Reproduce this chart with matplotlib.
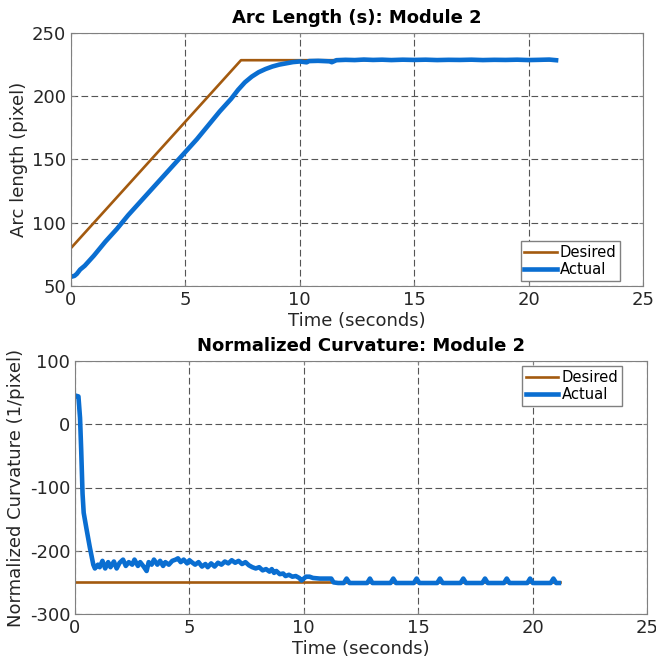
import matplotlib
matplotlib.use("Agg")
import matplotlib.pyplot as plt

# arc length, desired vs actual
t_arc_des = [0, 7.43, 21.2]
arc_des = [80, 228.5, 228.5]

t_arc = [0.05, 0.15, 0.25, 0.4, 0.6, 0.8, 1.0, 1.5, 2.0, 2.5, 3.0, 3.5, 4.0, 4.5,
         5.0, 5.5, 6.0, 6.5, 7.0, 7.3, 7.6, 7.9, 8.2, 8.5, 8.8, 9.1, 9.4, 9.7,
         10.0, 10.3, 10.4, 10.8, 11.3, 11.4, 11.6, 12.0, 12.4, 12.8, 13.2, 13.6,
         14.0, 14.5, 15.0, 15.5, 16.0, 16.5, 17.0, 17.5, 18.0, 18.5, 19.0, 19.5,
         20.0, 20.5, 20.9, 21.2]
arc = [57.5, 58, 59.5, 63, 66, 70, 74, 85, 95, 106, 116, 126, 136, 146,
       156, 166, 177, 188, 198, 205, 211, 215.5, 219, 221.5, 223.5, 225, 226, 227,
       227.5, 226.8, 227.8, 228, 227.6, 226.9, 228.5, 228.8, 228.6, 229, 228.7, 228.9,
       228.6, 228.9, 228.7, 228.9, 228.6, 228.8, 228.7, 228.9, 228.6, 228.8, 228.7, 228.9,
       228.6, 228.8, 229, 228.5]

# normalized curvature, desired vs actual
t_curv_des = [0, 21.2]
curv_des = [-250, -250]

t_curv = [0.05, 0.15, 0.22, 0.27, 0.33, 0.38, 0.5, 0.65, 0.8, 0.87,
          1.0, 1.08, 1.2, 1.32, 1.45, 1.55, 1.7, 1.82, 1.95, 2.1, 2.22, 2.35,
          2.5, 2.6, 2.75, 2.85, 3.0, 3.13, 3.22, 3.35, 3.45, 3.6, 3.72, 3.85,
          3.95, 4.1, 4.25, 4.4, 4.5, 4.62, 4.75, 4.9, 5.0, 5.1, 5.25, 5.4,
          5.55, 5.7, 5.8, 5.95, 6.1, 6.25, 6.4, 6.55, 6.7, 6.85, 7.0, 7.15,
          7.3, 7.45, 7.6, 7.75, 7.9, 8.05, 8.2, 8.35, 8.5, 8.6, 8.7, 8.8,
          8.95, 9.1, 9.2, 9.35, 9.5, 9.65, 9.8, 9.9, 10.0, 10.1, 10.25, 10.4,
          10.7, 11.0, 11.2, 11.3, 11.5, 11.75, 11.87, 12.0, 12.77, 12.89, 13.0,
          13.79, 13.91, 14.03, 14.81, 14.93, 15.05, 15.83, 15.95, 16.07, 16.85,
          16.97, 17.09, 17.8, 17.92, 18.04, 18.75, 18.87, 18.99, 19.77, 19.89,
          20.01, 20.79, 20.91, 21.03, 21.15]
curv = [45, 44, 10, -40, -110, -140, -165, -195, -222, -228,
        -222, -226, -216, -228, -218, -226, -217, -228, -219, -214, -224, -218,
        -222, -214, -224, -218, -225, -232, -218, -222, -214, -222, -216, -224,
        -218, -222, -216, -214, -212, -218, -214, -220, -215, -218, -222, -218,
        -225, -221, -226, -220, -225, -219, -222, -217, -220, -215, -219, -216,
        -221, -218, -223, -226, -228, -226, -231, -229, -233, -229, -235, -232,
        -237, -236, -240, -238, -241, -240, -243, -247, -244, -241, -241, -243,
        -244, -244, -244, -250, -251, -251, -244, -251, -251, -244, -251,
        -251, -244, -251, -251, -244, -251, -251, -244, -251, -251,
        -244, -251, -251, -244, -251, -251, -244, -251, -251, -244,
        -251, -251, -244, -251, -251]

brown = "#A35A0F"
blue = "#0A6ED1"
txt = "#262626"

plt.rcParams["font.family"] = "DejaVu Sans"
plt.rcParams["axes.unicode_minus"] = False

fig = plt.figure(figsize=(6.56, 6.66), dpi=100)
ax1 = fig.add_axes([71/656, 1 - 286/666, 572/656, 253/666])
ax2 = fig.add_axes([75/656, 1 - 614/666, 572/656, 253/666])


def style(ax, yticks):
    ax.set_xlim(0, 25)
    ax.set_xticks([0, 5, 10, 15, 20, 25])
    ax.set_ylim(yticks[0], yticks[-1])
    ax.set_yticks(yticks)
    ax.grid(True, linestyle=(0, (6, 3)), color="#555555", linewidth=0.8)
    ax.set_axisbelow(True)
    for s in ax.spines.values():
        s.set_color("#808080")
        s.set_linewidth(0.8)
    ax.tick_params(direction="in", length=3, color="#808080", labelcolor=txt,
                   labelsize=13, top=True, right=True)
    ax.set_xlabel("Time (seconds)", fontsize=13, color=txt, labelpad=2)


ax1.plot(t_arc_des, arc_des, color=brown, lw=1.9, label="Desired")
ax1.plot(t_arc, arc, color=blue, lw=3.3, solid_joinstyle="round", label="Actual")
style(ax1, [50, 100, 150, 200, 250])
ax1.set_ylabel("Arc length (pixel)", fontsize=13, color=txt, labelpad=3)
ax1.set_title("Arc Length (s): Module 2", fontsize=13, fontweight="bold", pad=7)
ax1.legend(loc="lower right", bbox_to_anchor=(0.96, 0.021), borderaxespad=0,
           fancybox=False, framealpha=1, edgecolor="#808080", fontsize=10.6,
           handlelength=2.2, handletextpad=0.2, labelspacing=0.15, borderpad=0.25)

ax2.plot(t_curv_des, curv_des, color=brown, lw=1.9, label="Desired")
ax2.plot(t_curv, curv, color=blue, lw=3.3, solid_joinstyle="round", label="Actual")
style(ax2, [-300, -200, -100, 0, 100])
ax2.set_ylabel("Normalized Curvature (1/pixel)", fontsize=13, color=txt, labelpad=3)
ax2.set_title("Normalized Curvature: Module 2", fontsize=13, fontweight="bold", pad=7)
ax2.legend(loc="upper right", bbox_to_anchor=(0.956, 0.98), borderaxespad=0,
           fancybox=False, framealpha=1, edgecolor="#808080", fontsize=10.6,
           handlelength=2.2, handletextpad=0.2, labelspacing=0.15, borderpad=0.25)

fig.savefig("out.png", dpi=100)
